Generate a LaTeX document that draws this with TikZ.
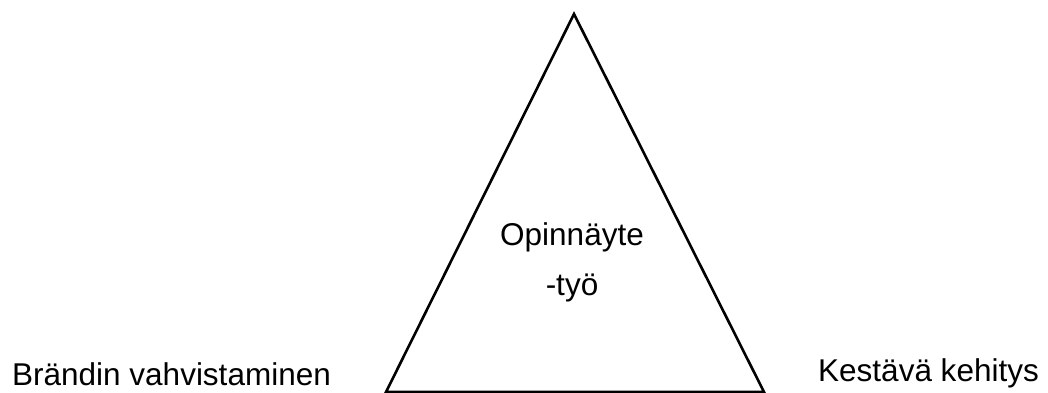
\documentclass[tikz,border=0pt]{standalone}
\usepackage{fontspec}
\setmainfont{Liberation Sans}
\usetikzlibrary{positioning}

\begin{document}
\begin{tikzpicture}[x=1pt, y=-1pt,
        edge/.style={draw, line width=2.6pt, line join=miter},
        corner/.style={font=\fontsize{31.5}{36}\selectfont, inner sep=0pt, anchor=base west},
        middle/.style={font=\fontsize{31.5}{50}\selectfont, align=center, inner sep=0pt, anchor=base}
    ]
    \useasboundingbox (0,0) rectangle (1048,392);
    % Kolmio
    \coordinate (top) at (574,14);
    \coordinate (left) at (386,392);
    \coordinate (right) at (764,392);
    \draw[edge] (left) -- (top) -- (right) -- cycle;
    % Keskiteksti
    \node[middle] (thesis) at (572,295) {Opinnäyte\\-työ};
    % Kulmatekstit
    \node[corner] (brand) at (12,385) {Brändin vahvistaminen};
    \node[corner] (sust) at (818,381) {Kestävä kehitys};
\end{tikzpicture}
\end{document}
